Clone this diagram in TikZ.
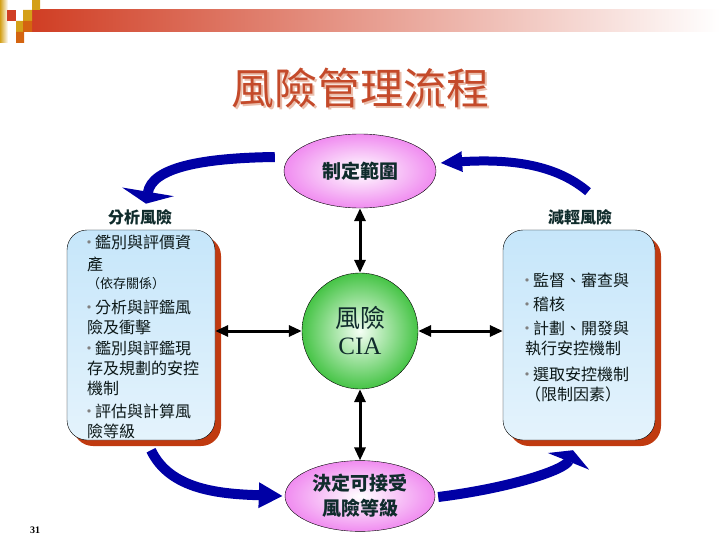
\documentclass[tikz,border=0pt]{standalone}
\usepackage{fontspec}
\setmainfont{Liberation Serif}
\newfontfamily\cjk{Noto Sans CJK TC}
\usetikzlibrary{arrows.meta,shadows,shapes.geometric,positioning}
\definecolor{navyarr}{RGB}{0,0,165}
\definecolor{titlered}{RGB}{196,74,42}
\definecolor{titleshd}{RGB}{234,190,172}
\definecolor{labgreen}{RGB}{16,44,44}
\definecolor{boxtext}{RGB}{12,24,24}
\definecolor{shadowred}{RGB}{192,58,16}
\definecolor{boxtop}{RGB}{198,230,250}
\definecolor{boxbot}{RGB}{228,243,252}
\definecolor{pinkedge}{RGB}{240,140,240}
\definecolor{greenedge}{RGB}{70,196,70}
\definecolor{gold}{RGB}{212,160,24}
\definecolor{orng}{RGB}{212,100,16}
\definecolor{barred}{RGB}{208,62,36}
\newcommand{\bul}{\makebox[8pt][l]{\hspace*{-6pt}\textcolor{gray}{・}}}
\tikzset{
  pinkoval/.style={ellipse,draw=black,thin,inner color=white,outer color=pinkedge,
    font=\cjk\bfseries\fontsize{19pt}{25pt}\selectfont,text=labgreen,align=center},
  riskbox/.style={draw=black,thin,rounded corners=20pt,top color=boxtop,bottom color=boxbot,
    drop shadow={shadow xshift=6pt,shadow yshift=-6pt,fill=shadowred,opacity=1}},
  boxlines/.style={anchor=west,align=left,text=boxtext,inner sep=0pt,
    font=\cjk\fontsize{16pt}{20pt}\selectfont},
  steplabel/.style={font=\cjk\bfseries\fontsize{16pt}{20pt}\selectfont,text=labgreen},
  blackarr/.style={line width=3pt,{Triangle[width=11pt,length=13pt]}-{Triangle[width=11pt,length=13pt]}},
  bluearr/.style={navyarr,line width=10pt}
}
\begin{document}
\begin{tikzpicture}[x=1pt,y=-1pt]
\useasboundingbox (0,0) rectangle (720,540);
% header strip
\shade[left color=barred,right color=white] (32,10) rectangle (720,32);
\shade[left color=gold,right color=white] (0,0) rectangle (8,43);
\fill[barred] (7,10) rectangle (16,21);
\fill[gold] (32,0) rectangle (40,10) (23,10) rectangle (32,21) (16,21) rectangle (23,32);
\fill[orng] (23,21) rectangle (32,32) (16,32) rectangle (24,43);
% title
\node[font=\cjk\fontsize{43pt}{43pt}\selectfont,text=titleshd] (titleshd) at (362,90) {風險管理流程};
\node[font=\cjk\fontsize{43pt}{43pt}\selectfont,text=titlered] (title) at (360,88) {風險管理流程};
% main nodes
\node[pinkoval,minimum width=152pt,minimum height=74pt] (scope) at (360,171) {制定範圍};
\node[circle,draw=black,thin,minimum size=116pt,inner color=white!80!green!20,outer color=greenedge,
  align=center,text=labgreen,font=\fontsize{25pt}{27pt}\selectfont] (cia) at (360,331)
  {{\cjk 風險}\\ CIA};
\node[pinkoval,minimum width=150pt,minimum height=68pt] (accept) at (360,496) {決定可接受\\風險等級};
\node[steplabel] (analyse) at (140,217) {分析風險};
\node[steplabel] (mitig) at (580,217) {減輕風險};
\node[riskbox,minimum width=148pt,minimum height=210pt] (leftbox) at (141,335) {};
\node[riskbox,minimum width=152pt,minimum height=210pt] (rightbox) at (579,335) {};
\node[boxlines] (lefttext) at ([xshift=20pt,yshift=-2pt]leftbox.west)
  {\bul 鑑別與評價資\\[2pt] 產\\[-2pt] {\fontsize{13pt}{16pt}\selectfont （依存關係）}\\[5pt]
   \bul 分析與評鑑風\\ 險及衝擊\\[1pt] \bul 鑑別與評鑑現\\ 存及規劃的安控\\ 機制\\[3pt]
   \bul 評估與計算風\\ 險等級};
\node[boxlines] (righttext) at ([xshift=22pt,yshift=-3pt]rightbox.west)
  {\bul 監督、審查與\\[4pt] \bul 稽核\\[4pt] \bul 計劃、開發與\\ 執行安控機制\\[6pt]
   \bul 選取安控機制\\ （限制因素）};
\node[font=\bfseries\fontsize{10pt}{12pt}\selectfont] (pageno) at (35,530) {31};
% black connectors
\draw[blackarr] (scope.south) -- (cia.north);
\draw[blackarr] (cia.south) -- (accept.north);
\draw[blackarr] (cia.west -| leftbox.east) -- (cia.west);
\draw[blackarr] (cia.east) -- (cia.east -| rightbox.west);
% blue cycle arrows
\draw[bluearr,-{Triangle[width=52pt,length=12pt]}] ([xshift=-9pt,yshift=14pt]scope.west)
  .. controls (200,158) and (152,168) .. ([xshift=6pt,yshift=2pt]analyse.north);
\draw[bluearr,line width=9pt,-{Triangle[width=19pt,length=22pt]}] ([xshift=8pt,yshift=14pt]mitig.north)
  .. controls (560,168) and (520,158) .. ([xshift=4pt,yshift=8pt]scope.east);
\draw[bluearr,-{Triangle[width=24pt,length=24pt]}] ([xshift=10pt,yshift=-10pt]leftbox.south)
  .. controls (170,490) and (220,494) .. ([xshift=-2pt]accept.west);
\draw[bluearr,-{Triangle[width=44pt,length=12pt]}] ([xshift=3pt,yshift=-1pt]accept.east)
  .. controls (510,488) and (565,470) .. ([xshift=-6pt,yshift=-10pt]rightbox.south);
\end{tikzpicture}
\end{document}
